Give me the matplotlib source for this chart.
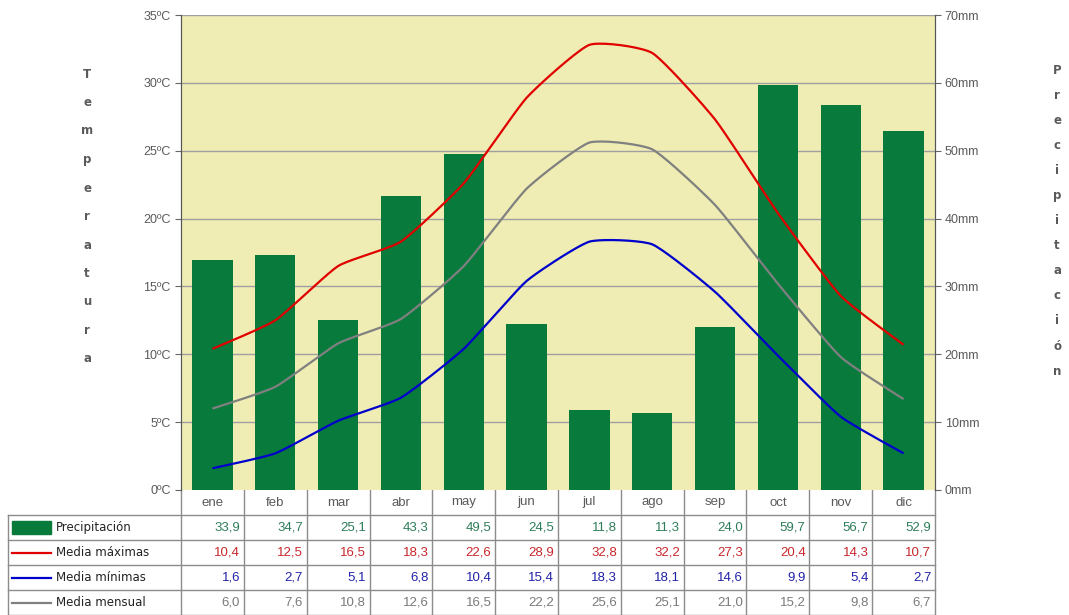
import numpy as np
import matplotlib
matplotlib.use("Agg")
import matplotlib.pyplot as plt
from matplotlib.patches import Rectangle
from matplotlib.lines import Line2D

# Monthly climate data
months = ["ene", "feb", "mar", "abr", "may", "jun", "jul", "ago", "sep", "oct", "nov", "dic"]
precip = [33.9, 34.7, 25.1, 43.3, 49.5, 24.5, 11.8, 11.3, 24.0, 59.7, 56.7, 52.9]
t_max = [10.4, 12.5, 16.5, 18.3, 22.6, 28.9, 32.8, 32.2, 27.3, 20.4, 14.3, 10.7]
t_min = [1.6, 2.7, 5.1, 6.8, 10.4, 15.4, 18.3, 18.1, 14.6, 9.9, 5.4, 2.7]
t_mean = [6.0, 7.6, 10.8, 12.6, 16.5, 22.2, 25.6, 25.1, 21.0, 15.2, 9.8, 6.7]

row_labels = ["Precipitación", "Media máximas", "Media mínimas", "Media mensual"]

BAR_C = "#077a3c"
MAX_C = "#e00000"
MIN_C = "#0000cc"
MEAN_C = "#808080"
BG_C = "#efedb3"
GRID_C = "#a0a0a0"
TXT_C = "#5a5a5a"
TXT_VAL = ["#2e7d5a", "#c8282d", "#2222a8", "#7a7a7a"]

W, H = 1069, 615
fig = plt.figure(figsize=(W / 100, H / 100), dpi=100)
fig.patch.set_facecolor("white")

L, R, T, B = 181, 935, 15, 490
ax = fig.add_axes([L / W, 1 - B / H, (R - L) / W, (B - T) / H])
ax2 = ax.twinx()

x = np.arange(len(months))


def smooth(xs, ys, k=12.0, n=20):
    """Lightly rounded line through the points (cubic Bezier segments)."""
    xs = np.asarray(xs, float)
    ys = np.asarray(ys, float)
    px = np.concatenate([[xs[0]], xs, [xs[-1]]])
    py = np.concatenate([[ys[0]], ys, [ys[-1]]])
    ox, oy = [], []
    t = np.linspace(0, 1, n, endpoint=False)
    for i in range(1, len(px) - 2):
        p0, p1, p2, p3 = (np.array([px[j], py[j]]) for j in range(i - 1, i + 3))
        c1 = p1 + (p2 - p0) / k
        c2 = p2 - (p3 - p1) / k
        for tt in t:
            pt = ((1 - tt) ** 3) * p1 + 3 * ((1 - tt) ** 2) * tt * c1 + 3 * (1 - tt) * tt ** 2 * c2 + tt ** 3 * p2
            ox.append(pt[0])
            oy.append(pt[1])
    ox.append(xs[-1])
    oy.append(ys[-1])
    return np.array(ox), np.array(oy)


# Precipitation bars on the right axis (drawn underneath)
ax.set_zorder(2)
ax2.set_zorder(1)
ax.patch.set_visible(False)
ax2.patch.set_visible(True)
ax2.patch.set_facecolor(BG_C)
ax2.bar(x, precip, width=0.64, color=BAR_C, zorder=3)
ax2.set_ylim(0, 70)
ax2.set_yticks(np.arange(0, 71, 10))
ax2.set_yticklabels([f"{v}mm" for v in range(0, 71, 10)])
for yv in range(10, 71, 10):
    ax2.axhline(yv, color=GRID_C, lw=1.0, zorder=1)

# Temperature lines on the left axis
for vals, col in ((t_max, MAX_C), (t_mean, MEAN_C), (t_min, MIN_C)):
    sx, sy = smooth(x, vals)
    ax.plot(sx, sy, color=col, lw=1.6, zorder=4, solid_capstyle="butt", solid_joinstyle="round")

ax.set_ylim(0, 35)
ax.set_yticks(np.arange(0, 36, 5))
ax.set_yticklabels([f"{v}ºC" for v in range(0, 36, 5)])
ax.set_xlim(-0.5, 11.5)
ax2.set_xlim(-0.5, 11.5)
ax.set_xticks([])

for a in (ax, ax2):
    a.tick_params(axis="y", labelsize=9, labelcolor=TXT_C, color="#666666", length=4, width=0.8,
                  labelfontfamily="Liberation Sans")
    for s in ("top", "bottom"):
        a.spines[s].set_visible(False)
    a.spines["left"].set_color("#555555")
    a.spines["right"].set_color("#555555")
ax2.tick_params(axis="y", pad=3)

# Vertical axis titles, one letter per line
for i, ch in enumerate("Temperatura"):
    fig.text(87 / W, 1 - (74 + i * 28.5) / H, ch, ha="center", va="center",
             fontsize=8.5, fontweight="bold", color=TXT_C, family="DejaVu Sans")
for i, ch in enumerate("Precipitación"):
    fig.text(1057 / W, 1 - (70 + i * 25.1) / H, ch, ha="center", va="center",
             fontsize=8.5, fontweight="bold", color=TXT_C, family="DejaVu Sans")

# Data table below the chart
TL = 8
col_w = (R - L) / len(months)
left_x = -0.5 - (L - TL) / col_w
tax = fig.add_axes([TL / W, 0, (R - TL) / W, (H - B) / H])
tax.set_xlim(left_x, 11.5)
tax.set_ylim(5, 0)
tax.axis("off")

line_kw = dict(color="#8c8c8c", lw=1.0, clip_on=False)
for k in range(len(months) + 1):
    tax.add_line(Line2D([k - 0.5, k - 0.5], [0, 5], **line_kw))
tax.add_line(Line2D([left_x, left_x], [1, 5], **line_kw))
for r in range(1, 6):
    tax.add_line(Line2D([left_x, 11.5], [r, r], **line_kw))

for k, m in enumerate(months):
    tax.text(k, 0.5, m, ha="center", va="center", fontsize=9.5, color=TXT_C, family="Liberation Sans")

series = [precip, t_max, t_min, t_mean]
for r, (lab, vals) in enumerate(zip(row_labels, series)):
    yc = r + 1.5
    for k, v in enumerate(vals):
        tax.text(k + 0.44, yc, f"{v:.1f}".replace(".", ","), ha="right", va="center",
                 fontsize=9.5, color=TXT_VAL[r], family="Liberation Sans")
    sx0 = left_x + 4 / col_w
    sx1 = left_x + 43 / col_w
    if r == 0:
        tax.add_patch(Rectangle((sx0, yc - 0.27), sx1 - sx0, 0.54, color=BAR_C, clip_on=False))
    else:
        tax.add_line(Line2D([sx0, sx1], [yc, yc], color=[MAX_C, MIN_C, MEAN_C][r - 1], lw=1.6,
                            clip_on=False))
    tax.text(left_x + 48 / col_w, yc, lab, ha="left", va="center", fontsize=8.5,
             color="#222222", family="DejaVu Sans")

fig.savefig("out.png", dpi=100, facecolor="white")
